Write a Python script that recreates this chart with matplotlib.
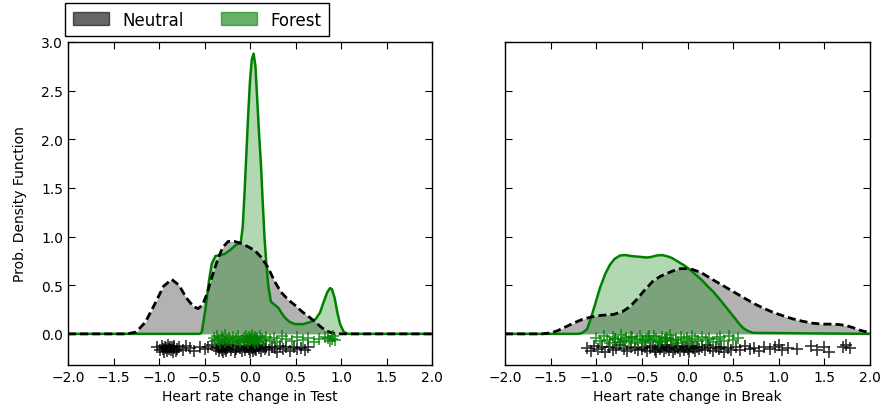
import matplotlib
matplotlib.use("Agg")
import matplotlib.pyplot as plt
from matplotlib.patches import Patch
import numpy as np

# density curves (x, pdf)
test_neutral_x = [-2.0, -1.35, -1.25, -1.15, -1.05, -0.95, -0.86, -0.78, -0.70, -0.62, -0.57, -0.52,
                  -0.47, -0.42, -0.36, -0.30, -0.24, -0.17, -0.10, -0.03, 0.05, 0.12, 0.20, 0.27,
                  0.34, 0.42, 0.50, 0.57, 0.64, 0.71, 0.78, 0.84, 0.90, 0.96, 2.0]
test_neutral_y = [0, 0, 0.02, 0.12, 0.30, 0.49, 0.56, 0.50, 0.37, 0.28, 0.26, 0.30,
                  0.42, 0.58, 0.75, 0.89, 0.95, 0.95, 0.93, 0.90, 0.86, 0.79, 0.68, 0.54,
                  0.43, 0.35, 0.29, 0.23, 0.18, 0.13, 0.07, 0.03, 0.01, 0, 0]

test_forest_x = [-2.0, -0.55, -0.53, -0.49, -0.45, -0.42, -0.38, -0.33, -0.28, -0.22, -0.16, -0.12,
                 -0.10, -0.08, -0.06, -0.04, -0.02, 0.0, 0.02, 0.04, 0.06, 0.08, 0.10, 0.12,
                 0.14, 0.16, 0.18, 0.20, 0.23, 0.27, 0.31, 0.35, 0.39, 0.44, 0.50, 0.58,
                 0.66, 0.72, 0.77, 0.81, 0.85, 0.88, 0.90, 0.93, 0.96, 0.99, 1.03, 1.08, 2.0]
test_forest_y = [0, 0, 0.02, 0.25, 0.55, 0.72, 0.80, 0.81, 0.82, 0.86, 0.91, 0.93,
                 0.95, 1.10, 1.45, 1.85, 2.25, 2.60, 2.82, 2.88, 2.75, 2.40, 2.05, 1.75,
                 1.35, 0.98, 0.72, 0.50, 0.33, 0.30, 0.27, 0.21, 0.16, 0.12, 0.10, 0.10,
                 0.12, 0.15, 0.22, 0.33, 0.43, 0.47, 0.46, 0.37, 0.22, 0.10, 0.02, 0, 0]

break_neutral_x = [-2.0, -1.6, -1.5, -1.43, -1.34, -1.25, -1.15, -1.07, -0.95, -0.81, -0.71, -0.63,
                   -0.56, -0.47, -0.38, -0.30, -0.23, -0.15, -0.08, 0.0, 0.06, 0.15, 0.28, 0.40,
                   0.50, 0.61, 0.72, 0.83, 0.94, 1.05, 1.15, 1.26, 1.37, 1.48, 1.59, 1.67,
                   1.74, 1.81, 1.88, 1.94, 2.0]
break_neutral_y = [0, 0, 0.01, 0.03, 0.07, 0.11, 0.15, 0.17, 0.19, 0.20, 0.23, 0.28,
                   0.35, 0.45, 0.54, 0.59, 0.62, 0.65, 0.67, 0.67, 0.66, 0.63, 0.555, 0.49,
                   0.435, 0.375, 0.315, 0.265, 0.22, 0.185, 0.155, 0.13, 0.11, 0.10, 0.10, 0.095,
                   0.085, 0.065, 0.04, 0.025, 0.017]

break_forest_x = [-2.0, -1.2, -1.15, -1.10, -1.07, -1.02, -0.96, -0.90, -0.85, -0.80, -0.74, -0.68,
                  -0.62, -0.56, -0.50, -0.45, -0.40, -0.34, -0.28, -0.23, -0.17, -0.10, -0.03, 0.04,
                  0.10, 0.16, 0.22, 0.28, 0.34, 0.40, 0.46, 0.52, 0.57, 0.61, 0.66, 0.72, 2.0]
break_forest_y = [0, 0, 0.01, 0.05, 0.13, 0.28, 0.47, 0.62, 0.71, 0.77, 0.805, 0.81,
                  0.80, 0.795, 0.79, 0.785, 0.79, 0.805, 0.81, 0.80, 0.78, 0.74, 0.70, 0.65,
                  0.60, 0.55, 0.49, 0.435, 0.37, 0.30, 0.23, 0.16, 0.10, 0.06, 0.03, 0.01, 0]

# rug markers (sample values and their vertical jitter)
test_neutral_pts = [-1.02, -0.99, -0.97, -0.96, -0.95, -0.93, -0.92, -0.91, -0.90, -0.89, -0.88, -0.87,
                    -0.86, -0.85, -0.84, -0.83, -0.81, -0.80, -0.78,
                    -0.74, -0.70, -0.66, -0.62, -0.55, -0.50, -0.46, -0.42,
                    -0.37, -0.35, -0.34, -0.33, -0.32, -0.31, -0.30, -0.29, -0.28, -0.27, -0.26, -0.25,
                    -0.23, -0.21, -0.19, -0.17, -0.15, -0.13, -0.11, -0.09, -0.07, -0.05, -0.03, -0.01,
                    0.0, 0.01, 0.02, 0.03, 0.04, 0.05, 0.06, 0.07, 0.08, 0.10, 0.12, 0.14, 0.16, 0.18,
                    0.21, 0.24, 0.27, 0.30, 0.33, 0.36, 0.40, 0.44, 0.48, 0.52, 0.56, 0.60, 0.64]
test_neutral_jit = [-0.14, -0.17, -0.12, -0.16, -0.19, -0.13, -0.15, -0.18, -0.11, -0.16, -0.14, -0.17,
                    -0.13, -0.19, -0.15, -0.12, -0.18, -0.16, -0.14,
                    -0.17, -0.12, -0.15, -0.18, -0.13, -0.16, -0.14, -0.11,
                    -0.16, -0.13, -0.18, -0.15, -0.12, -0.17, -0.19, -0.14, -0.16, -0.13, -0.18, -0.15,
                    -0.11, -0.17, -0.14, -0.19, -0.16, -0.12, -0.15, -0.18, -0.13, -0.17, -0.14, -0.16,
                    -0.19, -0.12, -0.15, -0.18, -0.13, -0.16, -0.14, -0.17, -0.11, -0.15, -0.18, -0.13,
                    -0.16, -0.14,
                    -0.17, -0.13, -0.15, -0.19, -0.12, -0.16, -0.14, -0.18, -0.13, -0.16, -0.15, -0.17, -0.14]

test_forest_pts = [-0.40, -0.38, -0.36, -0.35, -0.33, -0.31, -0.30, -0.28, -0.27, -0.25, -0.23, -0.21,
                   -0.19, -0.17, -0.15, -0.13, -0.11, -0.09, -0.07, -0.05, -0.04, -0.03, -0.02, -0.01,
                   0.0, 0.01, 0.02, 0.03, 0.04, 0.05, 0.06, 0.07, 0.08, 0.09, 0.11, 0.13, 0.15,
                   0.18, 0.22, 0.26, 0.30, 0.35, 0.40, 0.46, 0.52, 0.58, 0.64, 0.70, 0.76, 0.82,
                   0.86, 0.88, 0.90, 0.91, 0.93]
test_forest_jit = [-0.04, -0.07, -0.02, -0.06, -0.09, -0.03, -0.05, -0.08, -0.01, -0.06, -0.04, -0.07,
                   -0.03, -0.09, -0.05, -0.02, -0.08, -0.06, -0.04, -0.07, -0.02, -0.05, -0.08, -0.03,
                   -0.06, -0.04, -0.01, -0.07, -0.05, -0.09, -0.03, -0.06, -0.04, -0.08, -0.02, -0.05, -0.07,
                   -0.03, -0.06, -0.04, -0.08, -0.02, -0.05, -0.07, -0.03, -0.06, -0.04, -0.08, -0.05, -0.03,
                   -0.04, -0.07, -0.05, -0.02, -0.06]

break_neutral_pts = [-1.10, -1.06, -1.02, -0.98, -0.94, -0.90, -0.86, -0.82, -0.78, -0.74, -0.70, -0.66,
                     -0.62, -0.58, -0.54,
                     -0.50, -0.47, -0.44, -0.41, -0.38, -0.36, -0.34, -0.32, -0.30, -0.28, -0.26, -0.24,
                     -0.22, -0.20, -0.18, -0.16, -0.14, -0.12, -0.10, -0.08, -0.06, -0.04, -0.02, 0.0,
                     0.02, 0.04, 0.06, 0.08, 0.10, 0.13, 0.16, 0.19, 0.22, 0.25, 0.28, 0.31, 0.34, 0.37,
                     0.40, 0.44, 0.48,
                     0.53, 0.58, 0.63, 0.68, 0.73, 0.78, 0.84, 0.90, 0.96, 1.00, 1.04, 1.10,
                     1.20, 1.35, 1.42, 1.50, 1.55, 1.70, 1.74, 1.78]
break_neutral_jit = [-0.15, -0.18, -0.12, -0.16, -0.14, -0.19, -0.13, -0.17, -0.15, -0.11, -0.16, -0.18,
                     -0.13, -0.15, -0.17,
                     -0.16, -0.13, -0.18, -0.15, -0.12, -0.17, -0.19, -0.14, -0.16, -0.13, -0.18, -0.15,
                     -0.11, -0.17, -0.14, -0.19, -0.16, -0.12, -0.15, -0.18, -0.13, -0.17, -0.14, -0.16,
                     -0.19, -0.12, -0.15, -0.18, -0.13, -0.16, -0.14, -0.17, -0.11, -0.15, -0.18, -0.13,
                     -0.16, -0.14, -0.19, -0.15, -0.17,
                     -0.14, -0.17, -0.12, -0.16, -0.15, -0.18, -0.13, -0.16, -0.14, -0.11, -0.17, -0.15,
                     -0.16, -0.12, -0.17, -0.14, -0.19, -0.13, -0.11, -0.15]

break_forest_pts = [-1.00, -0.96, -0.92, -0.88, -0.85, -0.82, -0.79, -0.76, -0.73, -0.70, -0.67, -0.64,
                    -0.61, -0.58, -0.55, -0.52, -0.49, -0.46, -0.43, -0.40, -0.37, -0.34, -0.31, -0.28,
                    -0.25, -0.22, -0.19, -0.16, -0.13, -0.10, -0.07, -0.04, -0.01, 0.02, 0.05, 0.08,
                    0.12, 0.16, 0.20, 0.24, 0.28, 0.32, 0.36, 0.40, 0.45, 0.50, 0.55,
                    -0.80, -0.72, -0.62, -0.50, -0.42, -0.30, -0.24, -0.18]
break_forest_jit = [-0.04, -0.07, -0.02, -0.06, -0.09, -0.03, -0.05, -0.08, -0.01, -0.06, -0.04, -0.07,
                    -0.03, -0.09, -0.05, -0.02, -0.08, -0.06, -0.04, -0.07, -0.02, -0.05, -0.08, -0.03,
                    -0.06, -0.04, -0.01, -0.07, -0.05, -0.09, -0.03, -0.06, -0.04, -0.08, -0.02, -0.05,
                    -0.07, -0.03, -0.06, -0.04, -0.08, -0.05, -0.03, -0.07, -0.02, -0.06, -0.04,
                    -0.05, -0.08, -0.03, -0.06, -0.02, -0.07, -0.04, -0.06]

xlabels = ["Heart rate change in Test", "Heart rate change in Break"]

plt.rcParams['font.family'] = ['DejaVu Sans']
plt.rcParams['lines.scale_dashes'] = False

fig = plt.figure(figsize=(8.84, 4.14), dpi=100)
ax1 = fig.add_axes([68 / 884, 48 / 414, 364 / 884, 323 / 414])
ax2 = fig.add_axes([505 / 884, 48 / 414, 365 / 884, 323 / 414])

panels = [
    (ax1, test_neutral_x, test_neutral_y, test_forest_x, test_forest_y,
     test_neutral_pts, test_neutral_jit, test_forest_pts, test_forest_jit),
    (ax2, break_neutral_x, break_neutral_y, break_forest_x, break_forest_y,
     break_neutral_pts, break_neutral_jit, break_forest_pts, break_forest_jit),
]

for i, (ax, nx, ny, fx, fy, npts, njit, fpts, fjit) in enumerate(panels):
    ax.fill_between(nx, ny, 0, color='k', alpha=0.3, lw=0)
    ax.fill_between(fx, fy, 0, color='g', alpha=0.3, lw=0)
    ax.plot(fx, fy, color='g', lw=1.8)
    ax.plot(nx, ny, color='k', lw=2, dashes=(5.8, 2.9))
    ax.plot(npts, njit, '+', color='k', ms=9, mew=1.2, alpha=0.8)
    ax.plot(fpts, fjit, '+', color='g', ms=9, mew=1.2, alpha=0.8)
    ax.set_xlim(-2, 2)
    ax.set_ylim(-0.32, 3.0)
    ax.set_xticks(np.arange(-2, 2.01, 0.5))
    ax.set_yticks(np.arange(0, 3.01, 0.5))
    ax.tick_params(direction='in', top=True, right=True, length=5, labelsize=10)
    ax.set_xlabel(xlabels[i], fontsize=10)
    for s in ax.spines.values():
        s.set_linewidth(1.0)

ax1.set_ylabel("Prob. Density Function", fontsize=10, labelpad=10)
ax2.tick_params(labelleft=False)

handles = [Patch(facecolor='k', edgecolor='k', alpha=0.6, label='Neutral'),
           Patch(facecolor='g', edgecolor='g', alpha=0.6, label='Forest')]
leg = fig.legend(handles=handles, loc='upper left', ncol=2, fontsize=12,
                 bbox_to_anchor=(65 / 884, 1 - 4 / 414), borderaxespad=0,
                 fancybox=False, framealpha=1, edgecolor='k', columnspacing=2.2,
                 handlelength=2.2, handleheight=0.85, borderpad=0.45)
leg.get_frame().set_linewidth(1.0)

fig.savefig("out.png", dpi=100)
